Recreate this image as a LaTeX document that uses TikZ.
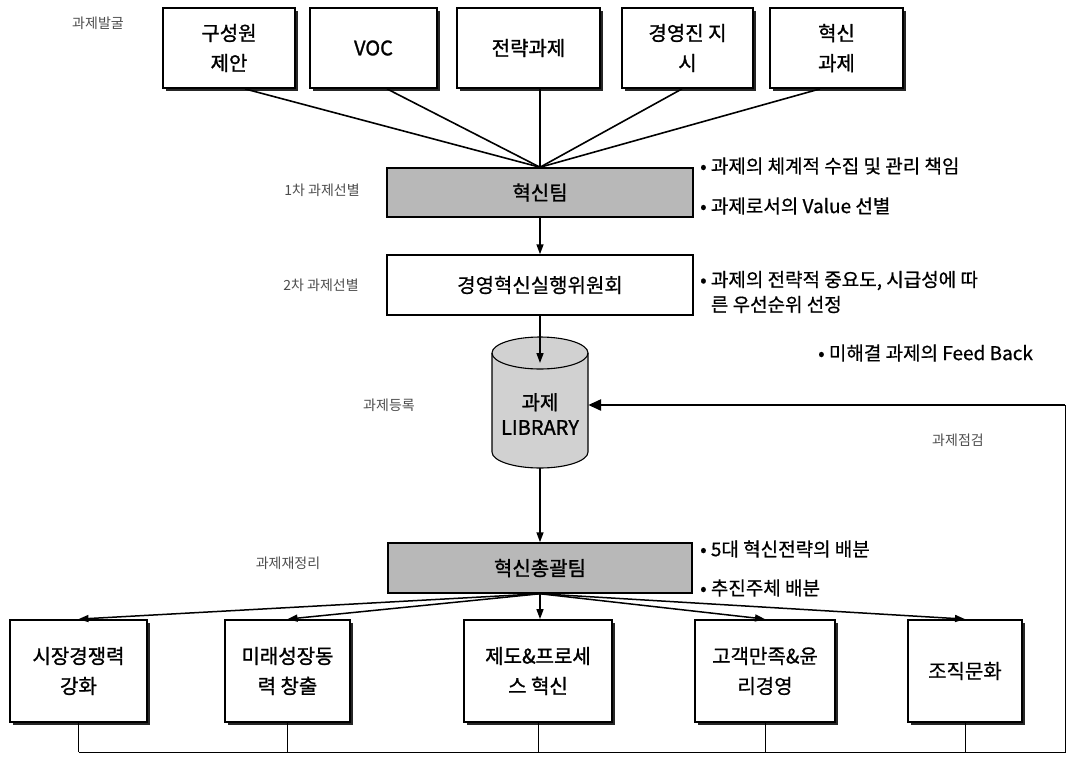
\documentclass[tikz,border=0pt]{standalone}
\usepackage{fontspec}
\setmainfont{Noto Sans CJK KR}
\newfontfamily\semibf[FakeBold=1.2]{Noto Sans CJK KR}
\newfontfamily\lightbf[FakeBold=0.6]{Noto Sans CJK KR}
\usetikzlibrary{arrows.meta,shadows}
\begin{document}
\begin{tikzpicture}[x=1pt,y=-1pt,
  sbox/.style={draw, line width=1.8pt, fill=white, align=center, inner sep=0pt,
    font=\semibf\fontsize{20}{30}\selectfont,
    drop shadow={shadow xshift=3pt, shadow yshift=-3pt, fill=black!85, opacity=1}},
  gbox/.style={draw, line width=1.5pt, fill=black!28, inner sep=0pt, font=\semibf\fontsize{20}{24}\selectfont},
  wbox/.style={draw, line width=1.5pt, fill=white, inner sep=0pt, font=\lightbf\fontsize{20}{24}\selectfont},
  lbl/.style={font=\fontsize{14}{16}\selectfont, text=black!70},
  note/.style={anchor=west, align=left, inner sep=0pt, font=\lightbf\fontsize{19}{25}\selectfont},
  conn/.style={line width=1.6pt},
  arr/.style={line width=1.5pt, -{Triangle[length=10pt,width=7pt]}},
  joinline/.style={line width=1pt},
  fbarr/.style={line width=2.6pt, -{Triangle[length=13pt,width=11pt]}},
]
\useasboundingbox (0,0) rectangle (1072,756);

% top source boxes
\node[sbox, minimum width=132pt, minimum height=80pt] (s1) at (229,48) {구성원\\제안};
\node[sbox, minimum width=127pt, minimum height=80pt] (s2) at (373.5,48) {VOC};
\node[sbox, minimum width=143pt, minimum height=80pt] (s3) at (528.5,48) {전략과제};
\node[sbox, minimum width=131pt, minimum height=80pt] (s4) at (687.5,48) {경영진 지\\시};
\node[sbox, minimum width=133pt, minimum height=80pt] (s5) at (836.5,48) {혁신\\과제};

% stage boxes
\node[gbox, minimum width=306pt, minimum height=49pt] (t1) at (540,192.5) {혁신팀};
\node[wbox, minimum width=306pt, minimum height=60pt] (t2) at (540,285) {경영혁신실행위원회};

% library cylinder
\fill[black!18] (492,353) -- (492,452) arc (180:0:48 and 16) -- (588,353) arc (0:-180:48 and 16) -- cycle;
\draw[line width=1.1pt] (492,353) -- (492,452) arc (180:0:48 and 16) -- (588,353);
\draw[line width=1.1pt] (540,353) ellipse (48 and 16);
\node[inner sep=0pt, minimum width=96pt, minimum height=130pt] (lib) at (540,403) {};
\node[align=center, inner sep=0pt, font=\semibf\fontsize{20}{25}\selectfont] (libtxt) at (540,414) {과제\\LIBRARY};

\node[gbox, minimum width=304pt, minimum height=50pt] (t3) at (540,568) {혁신총괄팀};

% bottom boxes
\node[sbox, minimum width=137pt, minimum height=102pt] (b1) at (78.5,671) {시장경쟁력\\강화};
\node[sbox, minimum width=125pt, minimum height=102pt] (b2) at (287.5,671) {미래성장동\\력 창출};
\node[sbox, minimum width=148pt, minimum height=102pt] (b3) at (538,671) {제도\&프로세\\스 혁신};
\node[sbox, minimum width=140pt, minimum height=102pt, font=\lightbf\fontsize{20}{30}\selectfont] (b4) at (765,671) {고객만족\&윤\\리경영};
\node[sbox, minimum width=114pt, minimum height=102pt, font=\lightbf\fontsize{20}{30}\selectfont] (b5) at (965,671) {조직문화};

% left labels
\node[lbl] (l1) at (98,23) {과제발굴};
\node[lbl] (l2) at (322,190) {1차 과제선별};
\node[lbl] (l3) at (321,285) {2차 과제선별};
\node[lbl] (l4) at (389,405) {과제등록};
\node[lbl] (l5) at (288,563) {과제재정리};
\node[lbl] (l6) at (958,440) {과제점검};

% notes
\node[note] (n1) at (700,166) {• 과제의 체계적 수집 및 관리 책임};
\node[note] (n2) at (700,206) {• 과제로서의 Value 선별};
\node[note] (n3) at (700,292) {• 과제의 전략적 중요도, 시급성에 따\\\phantom{• }른 우선순위 선정};
\node[note] (n4) at (818,353) {• 미해결 과제의 Feed Back};
\node[note] (n5) at (700,549) {• 5대 혁신전략의 배분};
\node[note] (n6) at (700,588) {• 추진주체 배분};

% converging connectors
\draw[conn] ([xshift=16pt]s1.south) -- (t1.north);
\draw[conn] ([xshift=13.5pt]s2.south) -- (t1.north);
\draw[conn] (t1.north |- s3.south) -- (t1.north);
\draw[conn] ([xshift=-5.5pt]s4.south) -- (t1.north);
\draw[conn] ([xshift=-16.5pt]s5.south) -- (t1.north);

\coordinate (libtop) at (540,363);
\draw[arr] (t1.south) -- (t2.north);
\draw[arr] (t2.south) -- (libtop);
\draw[arr] (lib.south) -- (t3.north);

\draw[arr] (t3.south) -- (b1.north);
\draw[arr] (t3.south) -- (b2.north);
\draw[arr] (t3.south) -- (t3.south |- b3.north);
\draw[arr] (t3.south) -- (b4.north);
\draw[arr] (t3.south) -- (b5.north);

% feedback loop
\coordinate (bl) at (0,752);
\coordinate (fbc) at (1065,752);
\coordinate (fbt) at (1065,405);
\draw[joinline] (b1.south) -- (b1.south |- bl);
\draw[joinline] (b2.south) -- (b2.south |- bl);
\draw[joinline] (b3.south) -- (b3.south |- bl);
\draw[joinline] (b4.south) -- (b4.south |- bl);
\draw[joinline] (b5.south) -- (b5.south |- bl);
\draw[joinline] (b1.south |- bl) -- (fbc) -- (fbt);
\draw[line width=1.8pt] (fbt) -- ([xshift=-40pt]fbt);
\draw[fbarr] ([xshift=-40pt]fbt) -- (fbt -| lib.east);
\end{tikzpicture}
\end{document}
